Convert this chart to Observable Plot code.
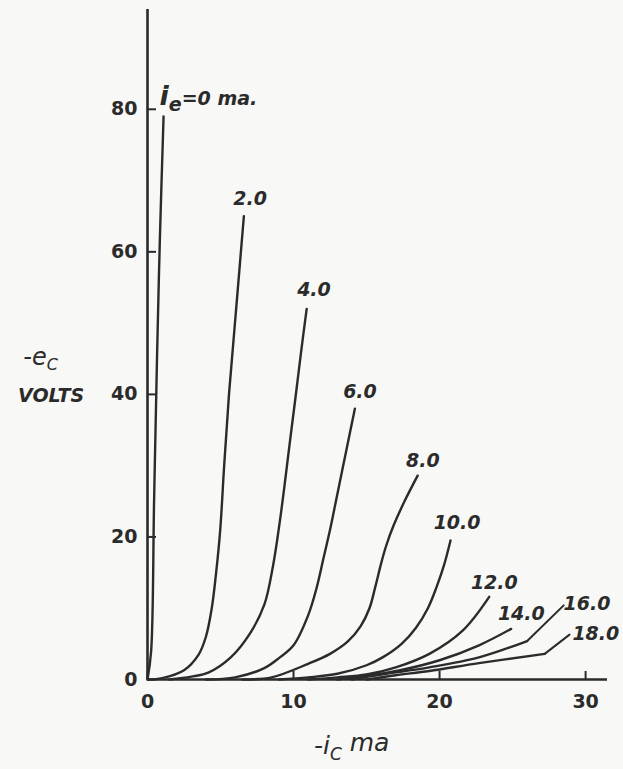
<!DOCTYPE html>
<html>
<head>
<meta charset="utf-8">
<script src="https://cdn.jsdelivr.net/npm/d3@7"></script>
<script src="https://cdn.jsdelivr.net/npm/@observablehq/plot@0.6"></script>
<style>
  html, body { margin: 0; padding: 0; background: #f8f8f6; }
  #chart svg { display: block; }
</style>
</head>
<body>
<div id="chart"></div>
<script>
// Collector characteristic curves: -ic (ma) vs -ec (volts), for emitter currents ie
const curve0  = [[0,0],[0.25,4],[0.45,25],[0.65,45],[0.85,62],[1.1,79]];
const curve2  = [[0,0],[1,0.2],[2.5,1.3],[3.5,3.5],[4.0,6],[4.4,10],[4.7,15],[4.98,21],[5.25,30],[5.58,40],[6.07,52],[6.6,65]];
const curve4  = [[1.5,0],[3,0.4],[4.2,1],[5.7,3.1],[7,6.4],[8,10.5],[8.6,16],[9.05,22],[9.37,27],[9.73,33],[10.1,39],[10.52,46],[10.9,52]];
const curve6  = [[4,0],[6,0.3],[8,1.6],[9,3],[10,4.8],[11,9],[11.6,13],[12.05,17],[12.5,21],[13,26],[13.6,32],[14.2,38]];
const curve8  = [[6.5,0],[8.5,0.3],[11,2.2],[12.5,3.6],[13.7,5.3],[14.6,7.5],[15.2,10],[15.6,13],[16.0,16.3],[16.35,18.8],[16.85,21.6],[17.6,25],[18.5,28.6]];
const curve10 = [[9,0],[11,0.3],[13,0.8],[15,2],[16.1,3.1],[17.4,5],[18.4,7.3],[19.2,10],[19.8,13],[20.3,16],[20.75,19.5]];
const curve12 = [[11,0],[13,0.3],[15,0.7],[17,1.7],[19.3,3.6],[21.6,6.9],[23.4,11.6]];
const curve14 = [[13,0],[15,0.5],[17.3,1.3],[20,2.7],[22.7,4.8],[24.9,7.1]];
const curve16 = [[14,0],[16,0.7],[19.3,1.7],[22.7,3.1],[26,5.4]];
const curve18 = [[15,0],[17,0.6],[19.3,1.2],[22.7,2.3],[27.2,3.6]];
const leader16 = [[26,5.4],[28.5,10.4]];
const leader18 = [[27.2,3.6],[28.9,6.3]];

const curveNames = ["0","2.0","4.0","6.0","8.0","10.0","12.0","14.0","16.0","18.0"];
const curveData  = [curve0,curve2,curve4,curve6,curve8,curve10,curve12,curve14,curve16,curve18];

// Curve labels (text, anchor point in data units)
const labelText = ["2.0","4.0","6.0","8.0","10.0","12.0","14.0","16.0","18.0"];
const labelX    = [7.03, 11.4, 14.55, 18.85, 21.2, 23.75, 25.6, 30.1, 30.7];
const labelY    = [67.4, 54.6, 40.3, 30.7, 22.0, 13.6, 9.2, 10.6, 6.4];

const xTicks = [0, 10, 20, 30];
const yTicks = [0, 20, 40, 60, 80];

const ink = "#2b2b2b";
const font = "DejaVu Sans";

const rows = curveNames.flatMap((name, k) => curveData[k].map(([ic, ec]) => ({name, ic, ec})));
const leaders = [leader16, leader18].flatMap((seg, k) => seg.map(([ic, ec]) => ({name: "L" + k, ic, ec})));
const labels = labelText.map((t, i) => ({t, x: labelX[i], y: labelY[i]}));

const chart = Plot.plot({
  width: 623,
  height: 769,
  marginLeft: 147,
  marginRight: 16,
  marginTop: 9,
  marginBottom: 90,
  style: {background: "#f8f8f6", color: ink, fontFamily: font, overflow: "visible"},
  x: {domain: [0, 31.5]},
  y: {domain: [0, 94]},
  marks: [
    Plot.axisX({ticks: xTicks, tickSize: -8, tickPadding: 23, fontSize: 19, fontWeight: "bold", stroke: ink, strokeWidth: 2, label: null}),
    Plot.axisY({ticks: yTicks, tickSize: -9, tickPadding: 19, fontSize: 19, fontWeight: "bold", stroke: ink, strokeWidth: 2, label: null}),
    Plot.ruleY([0], {stroke: ink, strokeWidth: 2.6}),
    Plot.ruleX([0], {stroke: ink, strokeWidth: 2.6}),
    Plot.line(rows, {x: "ic", y: "ec", z: "name", curve: "catmull-rom", stroke: ink, strokeWidth: 2.4}),
    Plot.line(leaders, {x: "ic", y: "ec", z: "name", stroke: ink, strokeWidth: 2}),
    Plot.text(labels, {x: "x", y: "y", text: "t", fontSize: 19, fontWeight: "bold", fontStyle: "italic", fill: ink}),
    Plot.text(["ie=0 ma."], {x: [0.82], y: [81.5], text: d => d, textAnchor: "start", fontSize: 21, fontStyle: "italic", fontWeight: "bold", fill: ink}),
    Plot.text(["-eC"], {x: [-8.5], y: [45.2], text: d => d, textAnchor: "start", fontSize: 24, fontStyle: "italic", fill: ink}),
    Plot.text(["VOLTS"], {x: [-6.6], y: [39.8], text: d => d, fontSize: 19, fontStyle: "italic", fontWeight: "bold", fill: ink}),
    Plot.text(["-iC ma"], {x: [11.4], y: [-9.3], text: d => d, textAnchor: "start", fontSize: 25, fontStyle: "italic", fill: ink})
  ]
});

// Turn the subscript letters into real subscripts
const NS = "http://www.w3.org/2000/svg";
function subscript(raw, parts) {
  chart.querySelectorAll("text").forEach(t => {
    if (t.textContent === raw) {
      t.textContent = "";
      for (const [s, sub, size] of parts) {
        const ts = document.createElementNS(NS, "tspan");
        ts.textContent = s;
        if (size) ts.setAttribute("font-size", size);
        if (sub) ts.setAttribute("dy", sub);
        t.appendChild(ts);
      }
    }
  });
}
subscript("ie=0 ma.", [["i", null, 27], ["e", "0.3em", 19], ["=0 ma.", "-0.3em", 19]]);
subscript("-eC", [["-e", null, null], ["C", "0.3em", 16]]);
subscript("-iC ma", [["-i", null, null], ["C", "0.35em", 17], [" ma", "-0.35em", null]]);

document.getElementById("chart").appendChild(chart);
</script>
</body>
</html>
